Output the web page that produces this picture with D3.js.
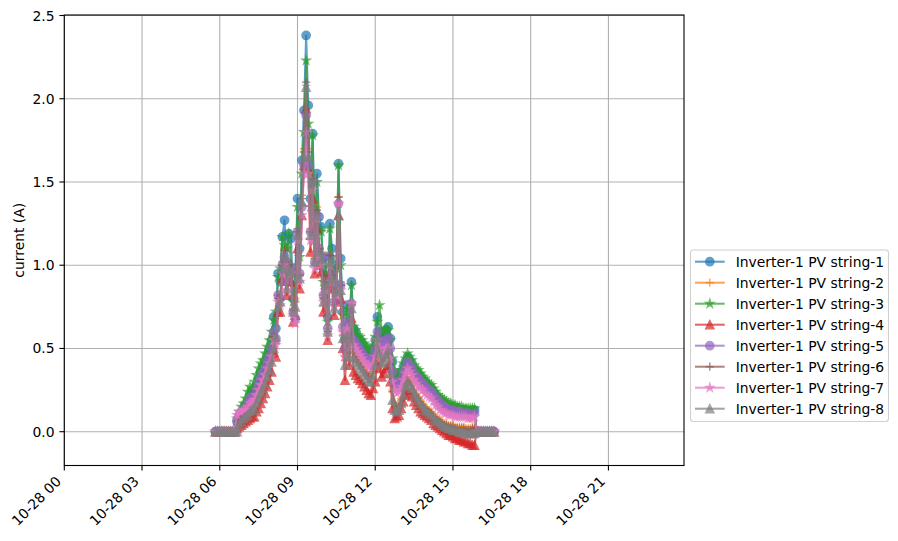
<!DOCTYPE html>
<html>
<head>
<meta charset="utf-8">
<script src="https://cdn.jsdelivr.net/npm/d3@7"></script>
<style>
body { margin: 0; background: #fff; }
svg { font-family: "DejaVu Sans", sans-serif; }
</style>
</head>
<body>
<svg id="chart"></svg>
<script>
// samples every 5 minutes, 05:50 -> 16:35 on 10-28
var startTime = new Date(2023, 9, 28, 5, 50);
var stepMinutes = 5;

var seriesNames = [
  "Inverter-1 PV string-1", "Inverter-1 PV string-2", "Inverter-1 PV string-3", "Inverter-1 PV string-4",
  "Inverter-1 PV string-5", "Inverter-1 PV string-6", "Inverter-1 PV string-7", "Inverter-1 PV string-8"
];

var s1 = [0,0,0,0,0,0,0,0,0,0,
  0.06,0.09,0.12,0.14,0.16,0.19,0.22,0.24,0.23,0.28,
  0.32,0.36,0.39,0.42,0.46,0.50,0.55,0.69,0.62,0.95,
  0.90,1.17,1.27,1.02,1.19,1.16,0.80,0.95,1.40,1.10,
  1.63,1.93,2.38,1.96,1.40,1.79,1.20,1.55,1.29,1.23,
  0.95,1.05,0.69,1.25,1.10,0.90,1.00,1.61,1.04,0.72,
  0.55,0.76,0.60,0.90,0.62,0.60,0.56,0.55,0.53,0.51,
  0.49,0.47,0.46,0.50,0.55,0.69,0.60,0.56,0.58,0.61,
  0.63,0.56,0.42,0.35,0.31,0.32,0.35,0.39,0.42,0.45,
  0.43,0.41,0.38,0.36,0.35,0.33,0.31,0.30,0.28,0.27,
  0.26,0.24,0.22,0.20,0.19,0.18,0.17,0.16,0.15,0.15,
  0.14,0.14,0.14,0.13,0.13,0.13,0.13,0.12,0.12,0.13,
  0.13,0,0,0,0,0,0,0,0,0];

var s2 = [0,0,0,0,0,0,0,0,0,0,
  0.05,0.07,0.09,0.10,0.12,0.14,0.16,0.18,0.18,0.22,
  0.25,0.28,0.31,0.34,0.38,0.42,0.46,0.58,0.54,0.82,
  0.80,1.02,1.10,0.90,1.02,1.00,0.74,0.80,1.22,0.95,
  1.42,1.70,2.08,1.70,1.22,1.55,1.05,1.35,1.12,1.08,
  0.82,0.92,0.62,1.08,0.96,0.78,0.88,1.41,0.90,0.60,
  0.45,0.62,0.50,0.78,0.48,0.46,0.44,0.42,0.40,0.38,
  0.36,0.34,0.33,0.37,0.42,0.52,0.50,0.44,0.45,0.48,
  0.48,0.42,0.25,0.18,0.15,0.16,0.20,0.25,0.29,0.33,
  0.31,0.29,0.26,0.23,0.21,0.19,0.17,0.15,0.14,0.13,
  0.12,0.10,0.09,0.08,0.07,0.06,0.05,0.05,0.04,0.04,
  0.04,0.03,0.03,0.03,0.03,0.03,0.02,0.02,0.02,0.03,
  0.03,0,0,0,0,0,0,0,0,0];

var s3 = [0,0,0,0,0,0,0,0,0,0,
  0.08,0.12,0.15,0.17,0.20,0.24,0.27,0.26,0.30,0.34,
  0.38,0.41,0.43,0.47,0.51,0.55,0.60,0.67,0.72,0.93,
  0.98,1.17,1.12,1.10,1.19,1.00,0.78,0.90,1.35,1.05,
  1.55,1.80,2.23,1.85,1.35,1.78,1.15,1.50,1.22,1.20,
  0.90,1.00,0.66,1.22,1.05,0.88,0.98,1.60,1.00,0.70,
  0.56,0.74,0.62,0.88,0.63,0.61,0.58,0.57,0.55,0.53,
  0.51,0.49,0.48,0.52,0.57,0.66,0.76,0.60,0.60,0.62,
  0.61,0.55,0.44,0.37,0.33,0.34,0.37,0.41,0.44,0.47,
  0.45,0.43,0.40,0.38,0.37,0.35,0.33,0.32,0.30,0.29,
  0.28,0.26,0.24,0.22,0.21,0.20,0.19,0.18,0.17,0.17,
  0.16,0.16,0.15,0.15,0.15,0.14,0.14,0.14,0.14,0.14,
  0.14,0,0,0,0,0,0,0,0,0];

var s4 = [0,0,0,0,0,0,0,0,0,0,
  0.02,0.03,0.04,0.05,0.06,0.07,0.08,0.09,0.09,0.12,
  0.14,0.17,0.20,0.23,0.27,0.31,0.36,0.48,0.45,0.72,
  0.72,0.92,1.00,0.82,0.92,0.90,0.66,0.70,1.10,0.86,
  1.30,1.60,1.94,1.58,1.08,1.40,0.95,1.22,1.00,0.96,
  0.72,0.82,0.55,0.95,0.86,0.70,0.78,1.30,0.80,0.50,
  0.31,0.52,0.40,0.68,0.36,0.34,0.32,0.31,0.29,0.27,
  0.25,0.23,0.22,0.26,0.30,0.42,0.38,0.33,0.35,0.38,
  0.40,0.30,0.14,0.08,0.09,0.10,0.14,0.18,0.22,0.25,
  0.23,0.21,0.18,0.16,0.14,0.12,0.11,0.10,0.09,0.08,
  0.07,0.05,0.04,0.03,0.02,0.01,0.00,-0.01,-0.02,-0.02,
  -0.03,-0.04,-0.04,-0.05,-0.05,-0.06,-0.06,-0.07,-0.07,-0.08,
  -0.08,0,0,0,0,0,0,0,0,0];

var s5 = [0,0,0,0,0,0,0,0,0,0,
  0.07,0.10,0.11,0.13,0.14,0.17,0.20,0.21,0.21,0.25,
  0.29,0.32,0.35,0.38,0.42,0.45,0.50,0.60,0.56,0.82,
  0.80,1.00,1.05,0.90,1.00,0.98,0.72,0.68,1.20,0.95,
  1.35,1.60,1.90,1.60,1.20,1.50,1.02,1.30,1.10,1.05,
  0.82,0.90,0.62,1.05,0.95,0.78,0.85,1.37,0.88,0.63,
  0.50,0.66,0.54,0.77,0.55,0.53,0.51,0.49,0.47,0.45,
  0.44,0.42,0.41,0.45,0.49,0.60,0.55,0.50,0.52,0.55,
  0.56,0.50,0.36,0.30,0.27,0.28,0.31,0.35,0.38,0.42,
  0.40,0.38,0.35,0.33,0.32,0.30,0.29,0.27,0.26,0.25,
  0.24,0.22,0.20,0.19,0.17,0.16,0.15,0.14,0.13,0.13,
  0.13,0.12,0.12,0.12,0.11,0.11,0.11,0.11,0.10,0.10,
  0.11,0,0,0,0,0,0,0,0,0];

var s6 = [0,0,0,0,0,0,0,0,0,0,
  0.04,0.07,0.08,0.10,0.11,0.13,0.15,0.17,0.18,0.21,
  0.24,0.27,0.30,0.33,0.37,0.41,0.45,0.57,0.53,0.80,
  0.79,1.00,1.09,0.88,1.00,0.98,0.73,0.78,1.20,0.94,
  1.40,1.68,2.10,1.68,1.20,1.52,1.04,1.33,1.10,1.06,
  0.80,0.90,0.60,1.06,0.94,0.76,0.86,1.41,0.88,0.58,
  0.43,0.60,0.48,0.76,0.47,0.45,0.43,0.41,0.39,0.37,
  0.35,0.33,0.32,0.36,0.41,0.51,0.49,0.43,0.44,0.47,
  0.47,0.41,0.24,0.17,0.14,0.15,0.19,0.24,0.28,0.32,
  0.30,0.28,0.25,0.22,0.20,0.18,0.16,0.14,0.13,0.12,
  0.11,0.09,0.08,0.07,0.06,0.05,0.04,0.04,0.03,0.03,
  0.03,0.02,0.02,0.02,0.02,0.02,0.01,0.01,0.01,0.02,
  0.02,0,0,0,0,0,0,0,0,0];

var s7 = [0,0,0,0,0,0,0,0,0,0,
  0.10,0.12,0.12,0.13,0.13,0.15,0.17,0.18,0.19,0.22,
  0.25,0.28,0.31,0.34,0.38,0.41,0.45,0.55,0.52,0.78,
  0.76,0.95,1.00,0.85,0.97,0.95,0.70,0.65,1.15,0.90,
  1.30,1.55,1.80,1.55,1.15,1.45,0.98,1.28,1.05,1.00,
  0.78,0.85,0.58,1.00,0.90,0.75,0.82,1.37,0.85,0.60,
  0.45,0.62,0.50,0.77,0.52,0.50,0.48,0.46,0.44,0.42,
  0.40,0.39,0.38,0.41,0.45,0.55,0.50,0.45,0.47,0.50,
  0.50,0.44,0.30,0.25,0.23,0.24,0.27,0.31,0.35,0.38,
  0.36,0.34,0.31,0.29,0.27,0.26,0.25,0.23,0.22,0.21,
  0.20,0.18,0.16,0.15,0.13,0.12,0.11,0.11,0.10,0.10,
  0.10,0.09,0.09,0.09,0.09,0.09,0.09,0.08,0.08,0.08,
  0.09,0,0,0,0,0,0,0,0,0];

var s8 = [0,0,0,0,0,0,0,0,0,0,
  0,0.04,0.06,0.08,0.09,0.10,0.12,0.13,0.14,0.17,
  0.20,0.23,0.26,0.29,0.33,0.37,0.42,0.50,0.57,0.75,
  0.78,0.98,1.05,0.86,0.98,0.96,0.72,0.75,1.18,0.92,
  1.38,1.65,2.07,1.65,1.18,1.50,1.02,1.30,1.08,1.04,
  0.78,0.88,0.60,1.02,0.92,0.74,0.84,1.30,0.85,0.56,
  0.40,0.58,0.45,0.74,0.44,0.42,0.40,0.38,0.36,0.34,
  0.32,0.30,0.30,0.34,0.40,0.57,0.47,0.41,0.42,0.45,
  0.49,0.35,0.19,0.13,0.12,0.13,0.17,0.22,0.27,0.30,
  0.28,0.26,0.23,0.21,0.19,0.17,0.15,0.13,0.12,0.11,
  0.10,0.08,0.07,0.06,0.05,0.04,0.03,0.03,0.02,0.02,
  0.01,0.01,0.01,0.00,0.00,0.00,-0.01,-0.01,-0.01,-0.01,
  -0.01,0,0,0,0,0,0,0,0,0];

var seriesValues = [s1, s2, s3, s4, s5, s6, s7, s8];
var yTicks = [0.0, 0.5, 1.0, 1.5, 2.0, 2.5];

var colors = ["#1f77b4", "#ff7f0e", "#2ca02c", "#d62728", "#9467bd", "#8c564b", "#e377c2", "#7f7f7f"];
var markers = ["o", "+", "*", "^", "o", "+", "*", "^"];

var width = 898, height = 541;
var plotL = 64.3, plotR = 684, plotT = 15, plotB = 465.5;
var fs = 13.9;

var times = s1.map(function(d, i){ return d3.timeMinute.offset(startTime, i*stepMinutes); });

var svg = d3.select("#chart").attr("width", width).attr("height", height);

var x = d3.scaleTime()
  .domain([new Date(2023, 9, 28, 0, 0), new Date(2023, 9, 28, 23, 55)])
  .range([plotL, plotR]);

var allVals = d3.merge(seriesValues);
var lo = d3.min(allVals), hi = d3.max(allVals), pad = (hi - lo)*0.05;
var y = d3.scaleLinear().domain([lo - pad, hi + pad]).range([plotB, plotT]);

var xTicks = x.ticks(d3.timeHour.every(3));
var fmt = d3.timeFormat("%m-%d %H");

// grid
var grid = svg.append("g").attr("stroke", "#b0b0b0").attr("stroke-width", 1.1);
xTicks.forEach(function(t){
  grid.append("line").attr("x1", x(t)).attr("x2", x(t)).attr("y1", plotT).attr("y2", plotB);
});
yTicks.forEach(function(v){
  grid.append("line").attr("x1", plotL).attr("x2", plotR).attr("y1", y(v)).attr("y2", y(v));
});

// marker shapes, size 6pt
var ms = 4.17;
function markerPath(m){
  if (m == "o") return d3.symbol().type(d3.symbolCircle).size(Math.PI*ms*ms)();
  if (m == "+") return "M" + (-ms) + ",0H" + ms + "M0," + (-ms) + "V" + ms;
  if (m == "^") return "M0," + (-ms) + "L" + (-ms) + "," + ms + "L" + ms + "," + ms + "Z";
  var pts = [];
  for (var k = 0; k < 10; k++){
    var r = k % 2 == 0 ? ms : ms*0.381966;
    var a = -Math.PI/2 + k*Math.PI/5;
    pts.push([r*Math.cos(a), r*Math.sin(a)]);
  }
  return "M" + pts.map(function(p){ return p[0].toFixed(2) + "," + p[1].toFixed(2); }).join("L") + "Z";
}

var line = d3.line()
  .x(function(d, i){ return x(times[i]); })
  .y(function(d){ return y(d); });

var plot = svg.append("g");
seriesValues.forEach(function(vals, si){
  var g = plot.append("g");
  g.append("path")
    .attr("d", line(vals))
    .attr("fill", "none")
    .attr("stroke", colors[si])
    .attr("stroke-width", 2.08)
    .attr("stroke-linejoin", "round")
    .attr("opacity", 0.7);
  var mp = markerPath(markers[si]);
  g.selectAll("path.mk").data(vals).enter().append("path")
    .attr("class", "mk")
    .attr("d", mp)
    .attr("transform", function(d, i){ return "translate(" + x(times[i]) + "," + y(d) + ")"; })
    .attr("fill", markers[si] == "+" ? "none" : colors[si])
    .attr("stroke", colors[si])
    .attr("stroke-width", 1.39)
    .attr("opacity", 0.7);
});

// spines
svg.append("rect").attr("x", plotL).attr("y", plotT).attr("width", plotR-plotL).attr("height", plotB-plotT)
  .attr("fill", "none").attr("stroke", "#000").attr("stroke-width", 1.1);

// x ticks
var xa = svg.append("g");
xTicks.forEach(function(t){
  xa.append("line").attr("x1", x(t)).attr("x2", x(t)).attr("y1", plotB).attr("y2", plotB+4.9)
    .attr("stroke", "#000").attr("stroke-width", 1.1);
  xa.append("text")
    .attr("transform", "translate(" + (x(t)-2.3) + "," + (plotB+16.8) + ") rotate(-45)")
    .attr("text-anchor", "end")
    .attr("font-size", fs)
    .text(fmt(t));
});

// y ticks
var ya = svg.append("g");
yTicks.forEach(function(v){
  ya.append("line").attr("x1", plotL-4.9).attr("x2", plotL).attr("y1", y(v)).attr("y2", y(v))
    .attr("stroke", "#000").attr("stroke-width", 1.1);
  ya.append("text")
    .attr("x", plotL-9.8).attr("y", y(v))
    .attr("dy", "0.36em")
    .attr("text-anchor", "end")
    .attr("font-size", fs)
    .text(d3.format(".1f")(v));
});

svg.append("text")
  .attr("transform", "translate(24," + ((plotT+plotB)/2) + ") rotate(-90)")
  .attr("text-anchor", "middle")
  .attr("font-size", fs)
  .text("current (A)");

// legend
var lg = svg.append("g");
lg.append("rect").attr("x", 690.5).attr("y", 250).attr("width", 198).attr("height", 171.5)
  .attr("rx", 3).attr("fill", "#fff").attr("fill-opacity", 0.8)
  .attr("stroke", "#d0d0d0").attr("stroke-width", 1.1);
seriesNames.forEach(function(name, si){
  var ly = 261.7 + si*21.0;
  lg.append("line").attr("x1", 695).attr("x2", 724.7).attr("y1", ly).attr("y2", ly)
    .attr("stroke", colors[si]).attr("stroke-width", 2.08).attr("opacity", 0.7);
  lg.append("path").attr("d", markerPath(markers[si]))
    .attr("transform", "translate(709.8," + ly + ")")
    .attr("fill", markers[si] == "+" ? "none" : colors[si])
    .attr("stroke", colors[si]).attr("stroke-width", 1.39).attr("opacity", 0.7);
  lg.append("text").attr("x", 735.7).attr("y", ly).attr("dy", "0.36em")
    .attr("font-size", fs).text(name);
});
</script>
</body>
</html>
